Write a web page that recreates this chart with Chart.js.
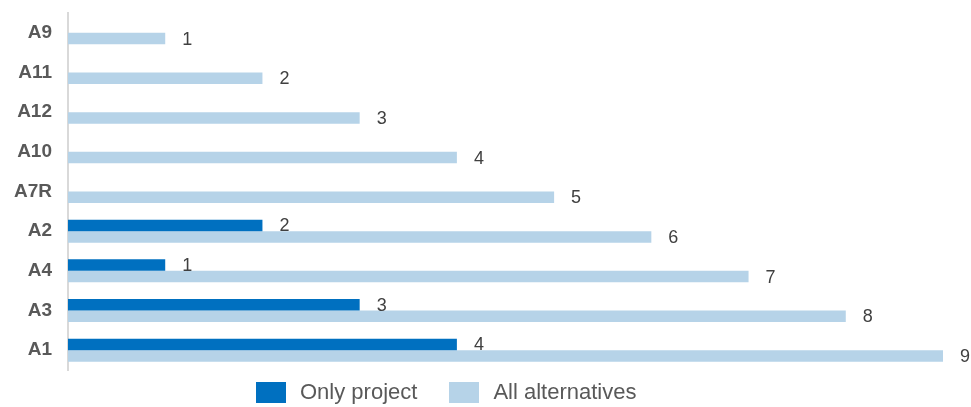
<!DOCTYPE html>
<html>
<head>
<meta charset="utf-8">
<script src="https://cdn.jsdelivr.net/npm/chart.js@4.4.1/dist/chart.umd.min.js"></script>
<style>
  html, body { margin: 0; padding: 0; background: #fff; }
  #wrap { position: relative; width: 971px; height: 407px; }
  #legend {
    position: absolute; left: 256px; top: 379px;
    display: flex; align-items: center;
    font-family: "Liberation Sans", Arial, sans-serif; font-size: 22px; color: #595959;
  }
  #legend .box { display: inline-block; width: 30px; height: 21px; margin-right: 14px; }
  #legend .item { display: flex; align-items: center; margin-right: 32px; }
</style>
</head>
<body>
<div id="wrap">
  <canvas id="chart" width="971" height="407"></canvas>
  <div id="legend"></div>
</div>
<script>
// Alternatives, top to bottom
const categories = ['A9', 'A11', 'A12', 'A10', 'A7R', 'A2', 'A4', 'A3', 'A1'];
const onlyProject = [null, null, null, null, null, 2, 1, 3, 4];
const allAlternatives = [1, 2, 3, 4, 5, 6, 7, 8, 9];

const DARK = '#0070c0';
const LIGHT = '#b6d3e8';
const FONT = '"Liberation Sans", Arial, sans-serif';

// value labels to the right of each bar end
const valueLabels = {
  id: 'valueLabels',
  afterDatasetsDraw(chart) {
    const ctx = chart.ctx;
    ctx.save();
    ctx.font = `18px ${FONT}`;
    ctx.fillStyle = '#404040';
    ctx.textBaseline = 'middle';
    ctx.textAlign = 'left';
    chart.data.datasets.forEach((ds, i) => {
      const meta = chart.getDatasetMeta(i);
      meta.data.forEach((bar, j) => {
        const v = ds.data[j];
        if (v == null) return;
        ctx.fillText(String(v), bar.x + 17, bar.y + 1);
      });
    });
    ctx.restore();
  },
};

const chart = new Chart(document.getElementById('chart'), {
  type: 'bar',
  data: {
    labels: categories,
    datasets: [
      { label: 'Only project', data: onlyProject, backgroundColor: DARK },
      { label: 'All alternatives', data: allAlternatives, backgroundColor: LIGHT },
    ],
  },
  options: {
    indexAxis: 'y',
    responsive: false,
    animation: false,
    categoryPercentage: 0.58,
    barPercentage: 1,
    layout: { padding: { top: 13, bottom: 37, right: 28, left: 0 } },
    plugins: {
      legend: { display: false },
      tooltip: { enabled: false },
    },
    scales: {
      x: { display: false, min: 0, max: 9 },
      y: {
        afterFit: (scale) => {
          scale.width = 68;
          scale.paddingTop = 0;
          scale.paddingBottom = 0;
        },
        grid: { display: false, drawTicks: false },
        border: { display: true, color: '#d9d9d9', width: 2 },
        ticks: {
          color: '#595959',
          padding: 16,
          font: { family: FONT, size: 19, weight: 'bold' },
        },
      },
    },
  },
  plugins: [valueLabels],
});

// legend below the plot
const legendEl = document.getElementById('legend');
chart.data.datasets.forEach((ds) => {
  const item = document.createElement('span');
  item.className = 'item';
  item.innerHTML = `<span class="box" style="background:${ds.backgroundColor}"></span>${ds.label}`;
  legendEl.appendChild(item);
});
</script>
</body>
</html>
